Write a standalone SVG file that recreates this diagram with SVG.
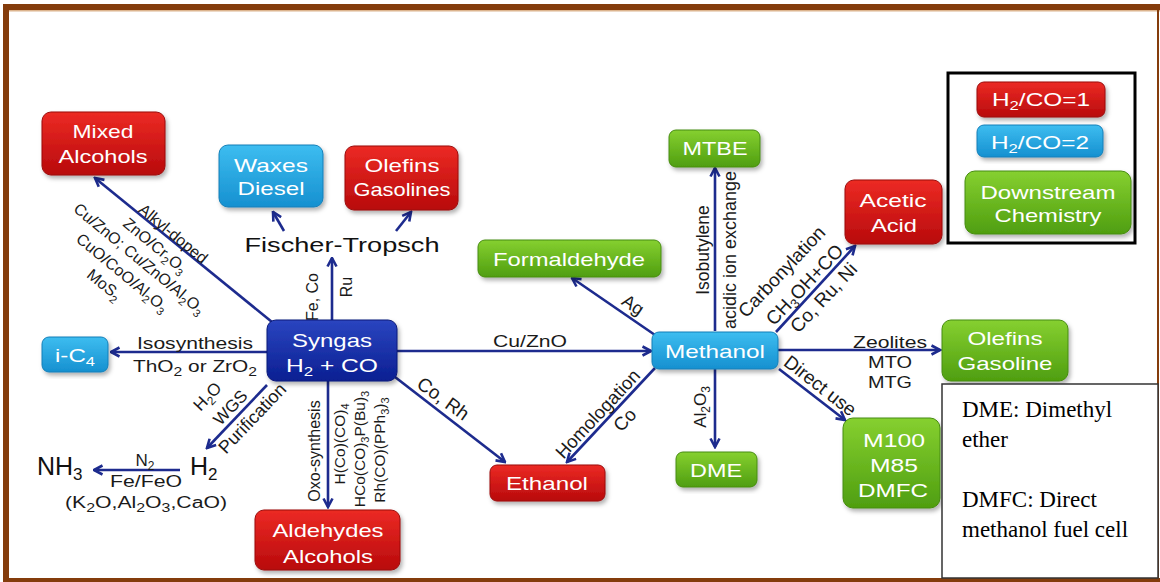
<svg xmlns="http://www.w3.org/2000/svg" width="1160" height="582" viewBox="0 0 1160 582">
<defs>
<linearGradient id="gRed" x1="0" y1="0" x2="0" y2="1"><stop offset="0" stop-color="#ec2a24"/><stop offset="1" stop-color="#b80a0c"/></linearGradient>
<linearGradient id="gBlue" x1="0" y1="0" x2="0" y2="1"><stop offset="0" stop-color="#3dbdf0"/><stop offset="1" stop-color="#1690d0"/></linearGradient>
<linearGradient id="gNavy" x1="0" y1="0" x2="0" y2="1"><stop offset="0" stop-color="#2a45c0"/><stop offset="1" stop-color="#0b1f92"/></linearGradient>
<linearGradient id="gGreen" x1="0" y1="0" x2="0" y2="1"><stop offset="0" stop-color="#86d030"/><stop offset="1" stop-color="#4f9e10"/></linearGradient>
<filter id="sh" x="-10%" y="-10%" width="125%" height="130%"><feDropShadow dx="2" dy="3" stdDeviation="2" flood-color="#000" flood-opacity="0.3"/></filter>
<marker id="ah" viewBox="0 0 12 12" refX="10.5" refY="6" markerWidth="12" markerHeight="12" markerUnits="userSpaceOnUse" orient="auto"><path d="M2,1.5 L10.5,6 L2,10.5" fill="none" stroke="#1d2b8e" stroke-width="2.6"/></marker>
<style>
.red{fill:url(#gRed);stroke:#9a0a0a;stroke-width:1;filter:url(#sh)}
.blue{fill:url(#gBlue);stroke:#137fb8;stroke-width:1;filter:url(#sh)}
.navy{fill:url(#gNavy);stroke:#0a1a78;stroke-width:1;filter:url(#sh)}
.green{fill:url(#gGreen);stroke:#468c10;stroke-width:1;filter:url(#sh)}
.bt{font-family:"Liberation Sans",Arial,sans-serif;fill:#fff;text-anchor:middle}
.lb{font-family:"Liberation Sans",Arial,sans-serif;fill:#1a1a1a;text-anchor:middle}
.ln{fill:none;stroke:#1d2b8e;stroke-width:2.6;marker-end:url(#ah)}
.serif{font-family:"Liberation Serif","Times New Roman",serif;fill:#000}
</style>
</defs>
<rect width="1160" height="582" fill="#fff"/>
<g id="frame">
<rect x="3" y="4" width="1157" height="6" fill="#843c0c"/>
<rect x="9" y="10" width="1151" height="1.5" fill="#dcb48e"/>
<rect x="3" y="4" width="6" height="578" fill="#843c0c"/>
<rect x="1157" y="10" width="2" height="572" fill="#843c0c"/>
<rect x="3" y="578" width="1157" height="4" fill="#843c0c"/>
</g>

<g id="connectors">
<line class="ln" x1="272" y1="322" x2="95" y2="178"/>
<line class="ln" x1="332" y1="320" x2="332" y2="258"/>
<line class="ln" x1="284" y1="231" x2="273" y2="212"/>
<line class="ln" x1="396" y1="231" x2="411" y2="212"/>
<line class="ln" x1="267" y1="352" x2="111" y2="352"/>
<line class="ln" x1="267" y1="385" x2="207" y2="448"/>
<line class="ln" x1="180" y1="470" x2="94" y2="470"/>
<line class="ln" x1="328" y1="381" x2="328" y2="507"/>
<line class="ln" x1="395" y1="377" x2="505" y2="462"/>
<line class="ln" x1="397" y1="351" x2="651" y2="351"/>
<line class="ln" x1="655" y1="335" x2="572" y2="278"/>
<line class="ln" x1="715" y1="331" x2="715" y2="168"/>
<line class="ln" x1="776" y1="332" x2="855" y2="246"/>
<line class="ln" x1="778" y1="350" x2="940" y2="350"/>
<line class="ln" x1="715" y1="369" x2="715" y2="447"/>
<line class="ln" x1="779" y1="369" x2="845" y2="420"/>
<line class="ln" x1="655" y1="368" x2="567" y2="462"/>

<text class="lb" font-size="16" transform="translate(173,234) rotate(39.5)" y="5">Alkyl-doped</text>
<text class="lb" font-size="16" transform="translate(155,246) rotate(39.5)" y="5">ZnO/Cr<tspan font-size="11" dy="4">2</tspan><tspan dy="-4">O</tspan><tspan font-size="11" dy="4">3</tspan></text>
<text class="lb" font-size="16" transform="translate(139,259) rotate(39.5)" y="5">Cu/ZnO; Cu/ZnO/Al<tspan font-size="11" dy="4">2</tspan><tspan dy="-4">O</tspan><tspan font-size="11" dy="4">3</tspan></text>
<text class="lb" font-size="16" transform="translate(122,273) rotate(39.5)" y="5">CuO/CoO/Al<tspan font-size="11" dy="4">2</tspan><tspan dy="-4">O</tspan><tspan font-size="11" dy="4">3</tspan></text>
<text class="lb" font-size="16" transform="translate(104,285) rotate(39.5)" y="5">MoS<tspan font-size="11" dy="4">2</tspan></text>

<text class="lb" font-size="16" transform="translate(313,297) rotate(-90)" y="5">Fe, Co</text>
<text class="lb" font-size="16" transform="translate(347,287) rotate(-90)" y="5">Ru</text>

<text class="lb" font-size="16" x="195" y="349" textLength="116" lengthAdjust="spacingAndGlyphs">Isosynthesis</text>
<text class="lb" font-size="16" x="195" y="372" textLength="124" lengthAdjust="spacingAndGlyphs">ThO<tspan font-size="12" dy="4">2</tspan><tspan dy="-4"> or ZrO</tspan><tspan font-size="12" dy="4">2</tspan></text>

<text class="lb" font-size="17" transform="translate(208,397) rotate(-46.4)" y="5">H<tspan font-size="12" dy="4">2</tspan><tspan dy="-4">O</tspan></text>
<text class="lb" font-size="17" transform="translate(231,408) rotate(-46.4)" y="5">WGS</text>
<text class="lb" font-size="18" transform="translate(253,419) rotate(-46.4)" y="5">Purification</text>

<text class="lb" x="145" y="466" font-size="17">N<tspan font-size="12" dy="4">2</tspan></text>
<text class="lb" font-size="16" x="146" y="487" textLength="72" lengthAdjust="spacingAndGlyphs">Fe/FeO</text>
<text class="lb" font-size="16" x="146" y="508" textLength="162" lengthAdjust="spacingAndGlyphs">(K<tspan font-size="12" dy="4">2</tspan><tspan dy="-4">O,Al</tspan><tspan font-size="12" dy="4">2</tspan><tspan dy="-4">O</tspan><tspan font-size="12" dy="4">3</tspan><tspan dy="-4">,CaO)</tspan></text>

<text class="lb" font-size="16" transform="translate(315,451) rotate(-90)" y="5">Oxo-synthesis</text>
<text class="lb" font-size="15.5" transform="translate(340,444) rotate(-90)" y="5">H(Co)(CO)<tspan font-size="11" dy="4">4</tspan></text>
<text class="lb" font-size="15.5" transform="translate(360,449) rotate(-90)" y="5">HCo(CO)<tspan font-size="11" dy="4">3</tspan><tspan dy="-4">P(Bu)</tspan><tspan font-size="11" dy="4">3</tspan></text>
<text class="lb" font-size="15.5" transform="translate(380,450) rotate(-90)" y="5">Rh(CO)(PPh<tspan font-size="11" dy="4">3</tspan><tspan dy="-4">)</tspan><tspan font-size="11" dy="4">3</tspan></text>

<text class="lb" font-size="19" transform="translate(443,399) rotate(36)" y="6">Co, Rh</text>
<text class="lb" font-size="16" x="530" y="347" textLength="74" lengthAdjust="spacingAndGlyphs">Cu/ZnO</text>
<text class="lb" font-size="18" transform="translate(633,305) rotate(34)" y="6">Ag</text>
<text class="lb" font-size="17.5" transform="translate(703,250) rotate(-90)" y="6">Isobutylene</text>
<text class="lb" font-size="18" transform="translate(730,250) rotate(-90)" y="6">acidic ion exchange</text>
<text class="lb" font-size="19" transform="translate(782,272) rotate(-46.7)" y="6">Carbonylation</text>
<text class="lb" font-size="19" transform="translate(805,285) rotate(-46.7)" y="6">CH<tspan font-size="13" dy="4">3</tspan><tspan dy="-4">OH+CO</tspan></text>
<text class="lb" font-size="19" transform="translate(824,298) rotate(-46.7)" y="6">Co, Ru, Ni</text>
<text class="lb" font-size="17" x="890" y="348" textLength="74" lengthAdjust="spacingAndGlyphs">Zeolites</text>
<text class="lb" font-size="17" x="890" y="368" textLength="44" lengthAdjust="spacingAndGlyphs">MTO</text>
<text class="lb" font-size="17" x="890" y="388" textLength="44" lengthAdjust="spacingAndGlyphs">MTG</text>
<text class="lb" font-size="17" transform="translate(700,407) rotate(-90)" y="6">Al<tspan font-size="12" dy="4">2</tspan><tspan dy="-4">O</tspan><tspan font-size="12" dy="4">3</tspan></text>
<text class="lb" font-size="19" transform="translate(820,386) rotate(38)" y="6">Direct use</text>
<text class="lb" font-size="18.5" transform="translate(598,414) rotate(-47)" y="6">Homologation</text>
<text class="lb" font-size="18.5" transform="translate(625,420) rotate(-47)" y="6">Co</text>
</g>

<g id="mixed-alcohols"><rect class="red" x="42" y="112" width="123" height="63" rx="9"/>
<text class="bt" font-size="19" x="103" y="138" textLength="61" lengthAdjust="spacingAndGlyphs">Mixed</text>
<text class="bt" font-size="19" x="103" y="163" textLength="89" lengthAdjust="spacingAndGlyphs">Alcohols</text></g>

<g id="waxes-diesel"><rect class="blue" x="219" y="145" width="104" height="62" rx="9"/>
<text class="bt" font-size="19" x="271" y="172" textLength="74" lengthAdjust="spacingAndGlyphs">Waxes</text>
<text class="bt" font-size="19" x="271" y="195" textLength="67" lengthAdjust="spacingAndGlyphs">Diesel</text></g>

<g id="olefins-gasolines"><rect class="red" x="345" y="146" width="113" height="64" rx="9"/>
<text class="bt" font-size="19" x="402" y="172" textLength="75" lengthAdjust="spacingAndGlyphs">Olefins</text>
<text class="bt" font-size="19" x="402" y="196" textLength="97" lengthAdjust="spacingAndGlyphs">Gasolines</text></g>

<g id="fischer-tropsch"><text x="342" y="252" font-family="Liberation Sans,Arial,sans-serif" font-size="21" fill="#111" text-anchor="middle" textLength="195" lengthAdjust="spacingAndGlyphs">Fischer-Tropsch</text></g>

<g id="syngas"><rect class="navy" x="267" y="320" width="130" height="61" rx="9"/>
<text class="bt" font-size="19" x="332" y="347" textLength="80" lengthAdjust="spacingAndGlyphs">Syngas</text>
<text class="bt" font-size="19" x="332" y="372" textLength="92" lengthAdjust="spacingAndGlyphs">H<tspan font-size="13" dy="4">2</tspan><tspan dy="-4"> + CO</tspan></text></g>

<g id="i-c4"><rect class="blue" x="42" y="337" width="66" height="35" rx="7"/>
<text class="bt" font-size="19" x="75" y="362" textLength="40" lengthAdjust="spacingAndGlyphs">i-C<tspan font-size="13" dy="4">4</tspan></text></g>

<g id="nh3"><text x="37" y="475" font-family="Liberation Sans,Arial,sans-serif" font-size="25" fill="#111">NH<tspan font-size="17" dy="5">3</tspan></text></g>
<g id="h2"><text x="190" y="475" font-family="Liberation Sans,Arial,sans-serif" font-size="25" fill="#111">H<tspan font-size="17" dy="5">2</tspan></text></g>

<g id="aldehydes-alcohols"><rect class="red" x="255" y="510" width="145" height="60" rx="9"/>
<text class="bt" font-size="19" x="328" y="537" textLength="111" lengthAdjust="spacingAndGlyphs">Aldehydes</text>
<text class="bt" font-size="19" x="328" y="563" textLength="90" lengthAdjust="spacingAndGlyphs">Alcohols</text></g>

<g id="ethanol"><rect class="red" x="490" y="465" width="115" height="36" rx="7"/>
<text class="bt" font-size="19" x="547" y="490" textLength="82" lengthAdjust="spacingAndGlyphs">Ethanol</text></g>

<g id="formaldehyde"><rect class="green" x="478" y="240" width="183" height="37" rx="7"/>
<text class="bt" font-size="19" x="569" y="266" textLength="152" lengthAdjust="spacingAndGlyphs">Formaldehyde</text></g>

<g id="mtbe"><rect class="green" x="669" y="130" width="91" height="37" rx="7"/>
<text class="bt" font-size="19" x="715" y="155" textLength="65" lengthAdjust="spacingAndGlyphs">MTBE</text></g>

<g id="acetic-acid"><rect class="red" x="845" y="180" width="97" height="64" rx="9"/>
<text class="bt" font-size="19" x="893" y="207" textLength="67" lengthAdjust="spacingAndGlyphs">Acetic</text>
<text class="bt" font-size="19" x="894" y="232" textLength="46" lengthAdjust="spacingAndGlyphs">Acid</text></g>

<g id="methanol"><rect class="blue" x="652" y="332" width="126" height="37" rx="7"/>
<text class="bt" font-size="19" x="715" y="358" textLength="100" lengthAdjust="spacingAndGlyphs">Methanol</text></g>

<g id="olefins-gasoline"><rect class="green" x="942" y="320" width="126" height="61" rx="9"/>
<text class="bt" font-size="19" x="1005" y="345" textLength="75" lengthAdjust="spacingAndGlyphs">Olefins</text>
<text class="bt" font-size="19" x="1005" y="370" textLength="95" lengthAdjust="spacingAndGlyphs">Gasoline</text></g>

<g id="dme"><rect class="green" x="676" y="452" width="81" height="35" rx="7"/>
<text class="bt" font-size="19" x="716" y="477" textLength="52" lengthAdjust="spacingAndGlyphs">DME</text></g>

<g id="m100"><rect class="green" x="843" y="418" width="97" height="90" rx="10"/>
<text class="bt" font-size="19" x="894" y="447" textLength="62" lengthAdjust="spacingAndGlyphs">M100</text>
<text class="bt" font-size="19" x="894" y="472" textLength="48" lengthAdjust="spacingAndGlyphs">M85</text>
<text class="bt" font-size="19" x="893" y="497" textLength="70" lengthAdjust="spacingAndGlyphs">DMFC</text></g>

<g id="legend">
<rect x="948" y="73" width="187" height="170" fill="#fff" stroke="#000" stroke-width="3"/>
<rect class="red" x="977" y="82" width="128" height="35" rx="7"/>
<text class="bt" font-size="19" x="1041" y="106" textLength="98" lengthAdjust="spacingAndGlyphs">H<tspan font-size="13" dy="4">2</tspan><tspan dy="-4">/CO=1</tspan></text>
<rect class="blue" x="977" y="125" width="126" height="32" rx="7"/>
<text class="bt" font-size="19" x="1040" y="149" textLength="98" lengthAdjust="spacingAndGlyphs">H<tspan font-size="13" dy="4">2</tspan><tspan dy="-4">/CO=2</tspan></text>
<rect class="green" x="965" y="171" width="166" height="63" rx="10"/>
<text class="bt" font-size="19" x="1048" y="199" textLength="135" lengthAdjust="spacingAndGlyphs">Downstream</text>
<text class="bt" font-size="19" x="1048" y="222" textLength="107" lengthAdjust="spacingAndGlyphs">Chemistry</text>
</g>

<g id="note">
<rect x="942" y="384" width="216" height="194" fill="#fff" stroke="#333" stroke-width="1.5"/>
<text class="serif" font-size="23" x="962" y="417">DME: Dimethyl</text>
<text class="serif" font-size="23" x="962" y="447">ether</text>
<text class="serif" font-size="23" x="962" y="507">DMFC: Direct</text>
<text class="serif" font-size="23" x="962" y="537">methanol fuel cell</text>
</g>
</svg>
